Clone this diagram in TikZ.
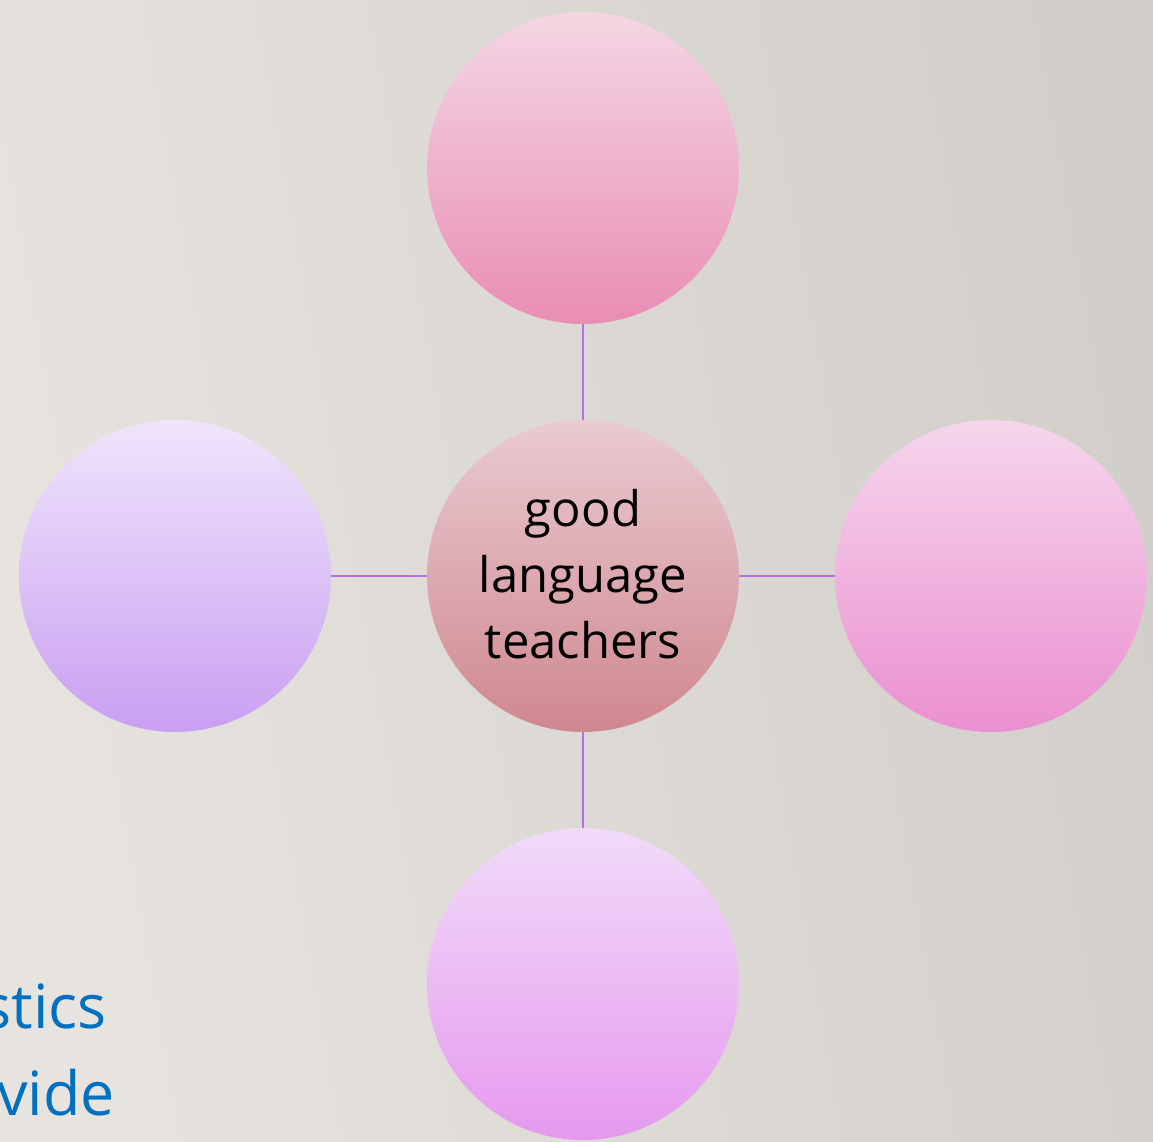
\documentclass[tikz,border=0pt]{standalone}
\usepackage{fontspec}
\setmainfont{Open Sans}
\definecolor{bgL}{HTML}{E7E4E0}
\definecolor{bgR}{HTML}{D2CFCA}
\definecolor{link}{HTML}{B46FE3}
\definecolor{blueT}{HTML}{0070C0}
\definecolor{cTop}{HTML}{E9CBD1}\definecolor{cBot}{HTML}{D0878F}
\definecolor{tTop}{HTML}{F4D7E3}\definecolor{tBot}{HTML}{E98DB3}
\definecolor{lTop}{HTML}{F0E5FC}\definecolor{lBot}{HTML}{C99FF2}
\definecolor{rTop}{HTML}{F6D6EC}\definecolor{rBot}{HTML}{EB8FD0}
\definecolor{bTop}{HTML}{F1DBF9}\definecolor{bBot}{HTML}{E699EE}
\tikzset{
  bubble/.style={circle, minimum size=312pt, inner sep=0pt, draw=none},
  linkline/.style={draw=link, line width=2.8pt},
  centertext/.style={align=center, font=\fontsize{49}{66}\selectfont, text=black},
  bluetext/.style={text=blueT, font=\fontsize{61}{66}\selectfont, inner sep=0pt}
}
\begin{document}
\begin{tikzpicture}[x=1pt,y=-1pt]
\useasboundingbox (0,0) rectangle (1153,1142);
\shade[left color=bgL, right color=bgR, shading angle=100] (0,0) rectangle (1153,1142);
\node[bubble] (c) at (583,576) {};
\node[bubble] (t) at (583,168) {};
\node[bubble] (l) at (175,576) {};
\node[bubble] (r) at (991,576) {};
\node[bubble] (b) at (583,984) {};
\draw[linkline] (c) -- (t);
\draw[linkline] (c) -- (l);
\draw[linkline] (c) -- (r);
\draw[linkline] (c) -- (b);
\node[bubble, top color=cTop, bottom color=cBot] at (c) {};
\node[bubble, top color=tTop, bottom color=tBot] at (t) {};
\node[bubble, top color=lTop, bottom color=lBot] at (l) {};
\node[bubble, top color=rTop, bottom color=rBot] at (r) {};
\node[bubble, top color=bTop, bottom color=bBot] at (b) {};
\node[centertext] (ct) at ([yshift=2pt]c) {good\\language\\teachers};
\node[bluetext, anchor=base east] (s1) at (107,1028) {stics};
\node[bluetext, anchor=base east] (s2) at (115,1115) {vide};
\end{tikzpicture}
\end{document}
